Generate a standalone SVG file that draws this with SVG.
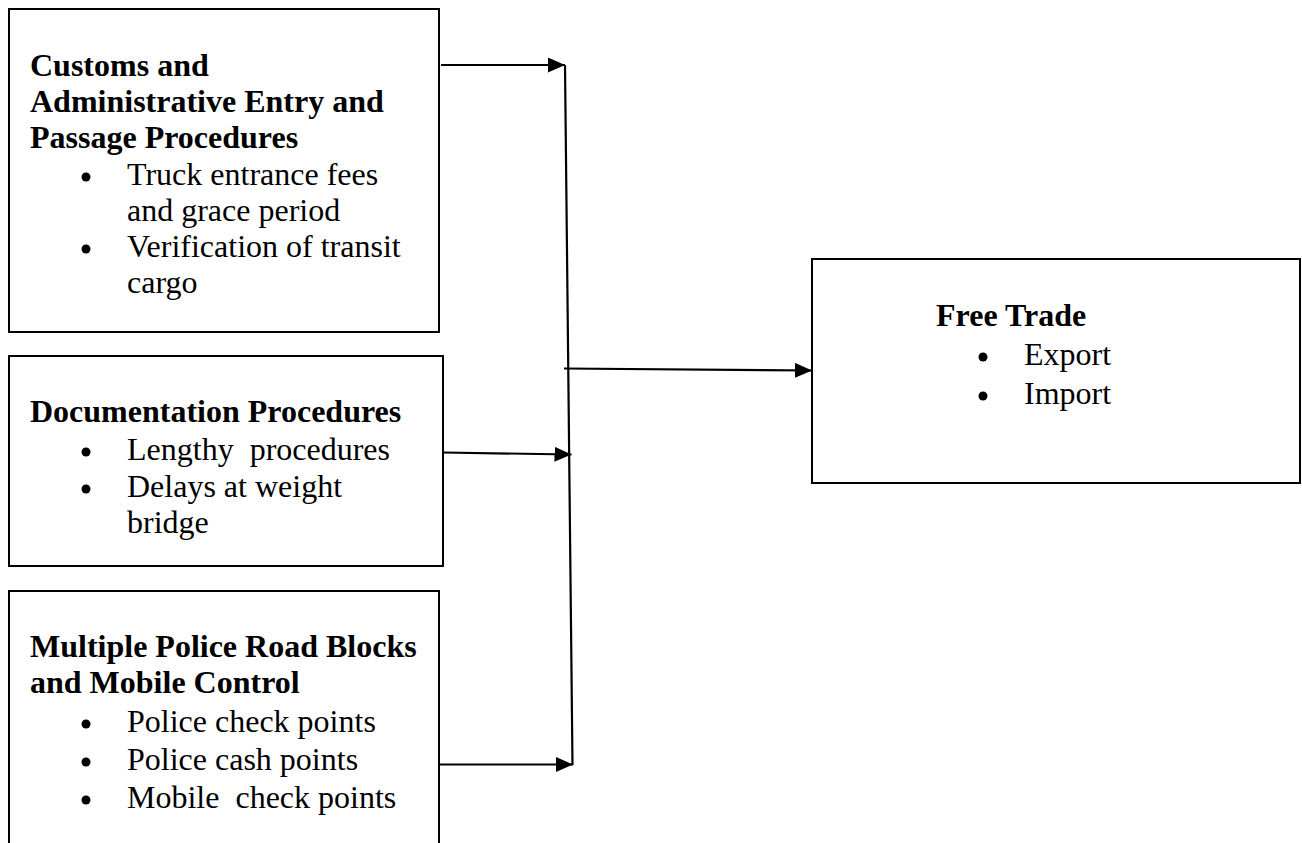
<svg xmlns="http://www.w3.org/2000/svg" width="1302" height="843" viewBox="0 0 1302 843">
<style>
.box{fill:#fff;stroke:#000;stroke-width:2}
.h{font-family:"Liberation Serif","Times New Roman",serif;font-size:32px;font-weight:bold;fill:#000;white-space:pre}
.t{font-family:"Liberation Serif","Times New Roman",serif;font-size:32px;fill:#000;white-space:pre}
.b{fill:#000}
.c{stroke:#000;stroke-width:2.2;fill:none}
</style>
<defs>
<marker id="ah" markerWidth="17" markerHeight="16" refX="17" refY="7.5" orient="auto" markerUnits="userSpaceOnUse">
<path d="M0,0 L17,7.5 L0,15 Z" fill="#000"/>
</marker>
</defs>
<rect width="1302" height="843" fill="#fff"/>
<g id="customs">
<rect class="box" x="9" y="9" width="430" height="323"/>
<text class="h" x="30" y="76">Customs and</text>
<text class="h" x="30" y="112">Administrative Entry and</text>
<text class="h" x="30" y="148">Passage Procedures</text>
<circle class="b" cx="86" cy="177" r="4.5"/>
<text class="t" x="127" y="185">Truck entrance fees</text>
<text class="t" x="127" y="221">and grace period</text>
<circle class="b" cx="86" cy="249" r="4.5"/>
<text class="t" x="127" y="257">Verification of transit</text>
<text class="t" x="127" y="293">cargo</text>
</g>
<g id="documentation">
<rect class="box" x="9" y="356" width="434" height="210"/>
<text class="h" x="30" y="422">Documentation Procedures</text>
<circle class="b" cx="86" cy="452" r="4.5"/>
<text class="t" x="127" y="460" xml:space="preserve">Lengthy  procedures</text>
<circle class="b" cx="86" cy="489" r="4.5"/>
<text class="t" x="127" y="497">Delays at weight</text>
<text class="t" x="127" y="533">bridge</text>
</g>
<g id="police">
<rect class="box" x="9" y="591" width="430" height="270"/>
<text class="h" x="30" y="657">Multiple Police Road Blocks</text>
<text class="h" x="30" y="693">and Mobile Control</text>
<circle class="b" cx="86" cy="724" r="4.5"/>
<text class="t" x="127" y="732">Police check points</text>
<circle class="b" cx="86" cy="762" r="4.5"/>
<text class="t" x="127" y="770">Police cash points</text>
<circle class="b" cx="86" cy="800" r="4.5"/>
<text class="t" x="127" y="808" xml:space="preserve">Mobile  check points</text>
</g>
<g id="freetrade">
<rect class="box" x="812" y="259" width="488" height="224"/>
<text class="h" x="936" y="326">Free Trade</text>
<circle class="b" cx="983" cy="357" r="4.5"/>
<text class="t" x="1024" y="365">Export</text>
<circle class="b" cx="983" cy="396" r="4.5"/>
<text class="t" x="1024" y="404">Import</text>
</g>
<g id="connectors">
<line class="c" x1="565" y1="65" x2="572.5" y2="765"/>
<line class="c" x1="441" y1="65" x2="565" y2="65" marker-end="url(#ah)"/>
<line class="c" x1="443" y1="452.5" x2="571.5" y2="454.5" marker-end="url(#ah)"/>
<line class="c" x1="439" y1="764.5" x2="573" y2="764.5" marker-end="url(#ah)"/>
<line class="c" x1="564" y1="368.5" x2="812" y2="370.5" marker-end="url(#ah)"/>
</g>
</svg>
